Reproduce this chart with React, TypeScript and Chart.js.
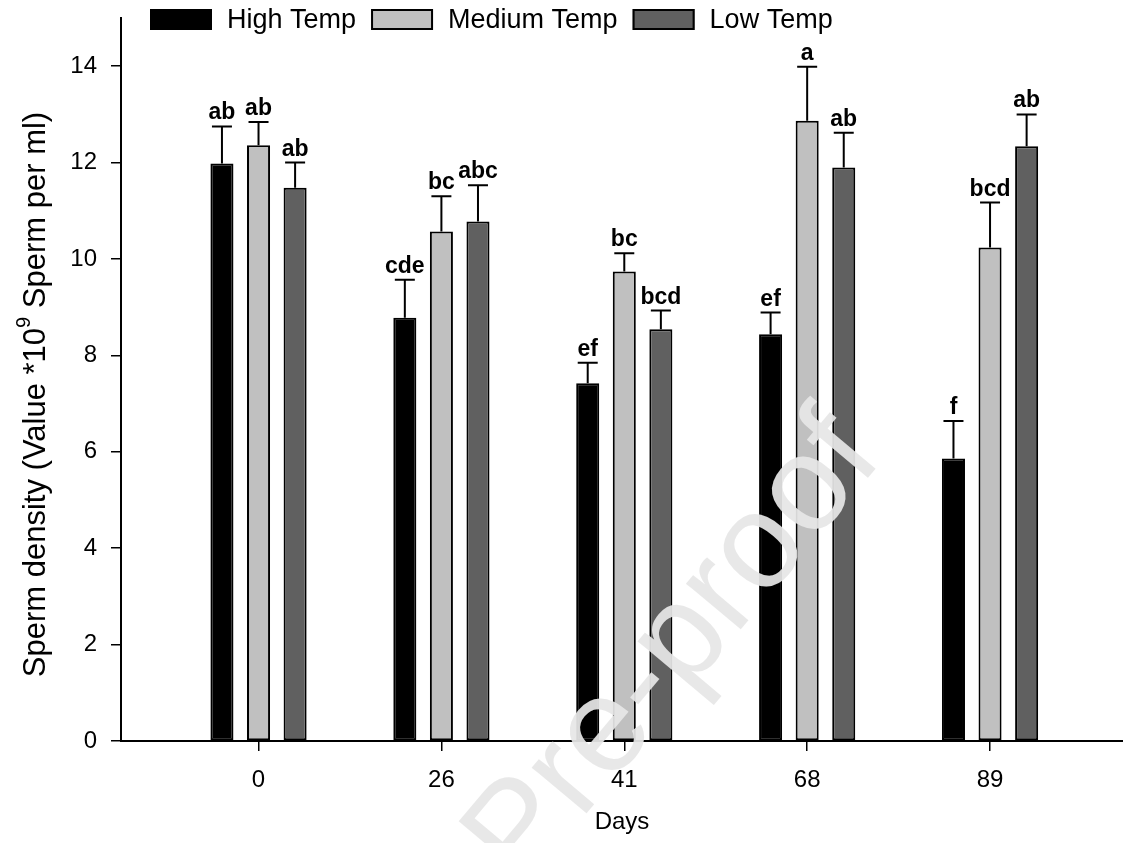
import React, { useEffect, useRef } from 'react';
import { Chart, registerables } from 'chart.js';

Chart.register(...registerables);

const FONT = '"Liberation Sans", Arial, Helvetica, sans-serif';

// ---- data ----
const days = ['0', '26', '41', '68', '89'];
const seriesLabels = ['High Temp', 'Medium Temp', 'Low Temp'];
const seriesColors = ['#000000', '#c0c0c0', '#606060'];

const highTemp = [11.98, 8.78, 7.42, 8.44, 5.86];
const highTempSE = [0.77, 0.79, 0.43, 0.45, 0.78];
const highTempLetters = ['ab', 'cde', 'ef', 'ef', 'f'];

const mediumTemp = [12.36, 10.57, 9.74, 12.87, 10.24];
const mediumTempSE = [0.48, 0.73, 0.38, 1.12, 0.93];
const mediumTempLetters = ['ab', 'bc', 'bc', 'a', 'bcd'];

const lowTemp = [11.48, 10.78, 8.54, 11.9, 12.34];
const lowTempSE = [0.52, 0.75, 0.39, 0.72, 0.66];
const lowTempLetters = ['ab', 'abc', 'bcd', 'ab', 'ab'];

const yTickValues = [0, 2, 4, 6, 8, 10, 12, 14];

const yTitleMain = 'Sperm density (Value *10';
const yTitleSup = '9';
const yTitleEnd = ' Sperm per ml)';
const xTitle = 'Days';
const watermark = 'Pre-proof';

const means = [highTemp, mediumTemp, lowTemp];
const errors = [highTempSE, mediumTempSE, lowTempSE];
const letters = [highTempLetters, mediumTempLetters, lowTempLetters];

const errorLetterPlugin = {
  id: 'errorLetters',
  afterDatasetsDraw(chart: any) {
    const ctx = chart.ctx;
    const yScale = chart.scales.y;
    chart.data.datasets.forEach((ds: any, di: number) => {
      const meta = chart.getDatasetMeta(di);
      meta.data.forEach((bar: any, i: number) => {
        const top = yScale.getPixelForValue(means[di][i] + errors[di][i]);
        ctx.save();
        ctx.strokeStyle = '#000';
        ctx.lineWidth = 2;
        ctx.beginPath();
        ctx.moveTo(bar.x, bar.y);
        ctx.lineTo(bar.x, top);
        ctx.moveTo(bar.x - 10, top);
        ctx.lineTo(bar.x + 10, top);
        ctx.stroke();
        ctx.fillStyle = '#000';
        ctx.font = `bold 23px ${FONT}`;
        ctx.textAlign = 'center';
        ctx.textBaseline = 'alphabetic';
        ctx.fillText(letters[di][i], bar.x, top - 7);
        ctx.restore();
      });
    });
  },
};

const decorPlugin = {
  id: 'decor',
  afterDraw(chart: any) {
    const ctx = chart.ctx;
    const area = chart.chartArea;
    // legend
    ctx.save();
    ctx.font = `27px ${FONT}`;
    ctx.textBaseline = 'middle';
    ctx.textAlign = 'left';
    let x = 150;
    const boxW = 62;
    const boxH = 21;
    const boxTop = 9;
    chart.data.datasets.forEach((ds: any) => {
      ctx.fillStyle = ds.backgroundColor;
      ctx.fillRect(x, boxTop, boxW, boxH);
      ctx.strokeStyle = '#000';
      ctx.lineWidth = 2;
      ctx.strokeRect(x + 1, boxTop + 1, boxW - 2, boxH - 2);
      ctx.fillStyle = '#000';
      const tx = x + boxW + 15;
      ctx.fillText(ds.label, tx, boxTop + boxH / 2 + 1);
      x = tx + ctx.measureText(ds.label).width + 15;
    });
    ctx.restore();

    // y-axis title with superscript
    ctx.save();
    const cy = (area.top + area.bottom) / 2 + 15;
    ctx.translate(36, cy);
    ctx.rotate(-Math.PI / 2);
    ctx.fillStyle = '#000';
    ctx.textBaseline = 'middle';
    ctx.textAlign = 'left';
    const mainFont = `31px ${FONT}`;
    const supFont = `20px ${FONT}`;
    ctx.font = mainFont;
    const w1 = ctx.measureText(yTitleMain).width;
    const w3 = ctx.measureText(yTitleEnd).width;
    ctx.font = supFont;
    const w2 = ctx.measureText(yTitleSup).width;
    const total = w1 + w2 + w3;
    let sx = -total / 2;
    ctx.font = mainFont;
    ctx.fillText(yTitleMain, sx, 0);
    sx += w1;
    ctx.font = supFont;
    ctx.fillText(yTitleSup, sx, -12);
    sx += w2;
    ctx.font = mainFont;
    ctx.fillText(yTitleEnd, sx, 0);
    ctx.restore();

    // watermark
    ctx.save();
    ctx.translate(675, 650);
    ctx.rotate((-50 * Math.PI) / 180);
    ctx.font = `135px ${FONT}`;
    ctx.fillStyle = 'rgba(230,230,230,0.93)';
    ctx.textAlign = 'center';
    ctx.textBaseline = 'middle';
    ctx.fillText(watermark, 0, 0);
    ctx.restore();
  },
};

export default function App() {
  const canvasRef = useRef<HTMLCanvasElement | null>(null);

  useEffect(() => {
    const canvas = canvasRef.current;
    if (!canvas) return;
    const chart = new Chart(canvas, {
      type: 'bar',
      data: {
        datasets: seriesLabels.map((label, si) => ({
          label,
          data: days.map((_, i) => ({ x: i, y: means[si][i] })),
          backgroundColor: seriesColors[si],
          borderColor: '#000000',
          borderWidth: 2,
          borderSkipped: false,
          categoryPercentage: 0.6,
          barPercentage: 0.63,
        })),
      },
      options: {
        responsive: false,
        devicePixelRatio: 1,
        animation: false,
        layout: { padding: { top: 18, right: 0, bottom: 0, left: 0 } },
        plugins: {
          legend: { display: false },
          tooltip: { enabled: false },
          title: { display: false },
        },
        scales: {
          x: {
            type: 'linear',
            offset: false,
            min: -0.752,
            max: 4.727,
            afterBuildTicks: (s: any) => {
              s.ticks = days.map((_, i) => ({ value: i }));
            },
            afterFit: (s: any) => {
              s.height = 102;
              s.paddingLeft = 0;
              s.paddingRight = 0;
            },
            grid: {
              display: true,
              offset: false,
              drawOnChartArea: false,
              drawTicks: true,
              tickLength: 10,
              color: '#000',
              lineWidth: 1.5,
            },
            border: { display: true, color: '#000', width: 2 },
            ticks: {
              callback: (v: any) => days[v] ?? '',
              color: '#000',
              font: { family: FONT, size: 24 },
              padding: 15,
              maxRotation: 0,
              autoSkip: false,
            },
            title: {
              display: true,
              text: xTitle,
              color: '#000',
              font: { family: FONT, size: 24 },
              padding: { top: 0, bottom: 6 },
            },
          },
          y: {
            type: 'linear',
            min: 0,
            max: 15,
            afterBuildTicks: (s: any) => {
              s.ticks = yTickValues.map((v) => ({ value: v }));
            },
            afterFit: (s: any) => {
              s.width = 121;
              s.paddingTop = 0;
              s.paddingBottom = 0;
            },
            grid: {
              display: true,
              drawOnChartArea: false,
              drawTicks: true,
              tickLength: 10,
              color: '#000',
              lineWidth: 1.5,
            },
            border: { display: true, color: '#000', width: 2 },
            ticks: {
              color: '#000',
              font: { family: FONT, size: 24 },
              padding: 14,
            },
          },
        },
      },
      plugins: [errorLetterPlugin, decorPlugin],
    } as any);
    return () => chart.destroy();
  }, []);

  return (
    <div style={{ position: 'absolute', left: 0, top: 0, width: 1123, height: 843, background: '#fff' }}>
      <canvas ref={canvasRef} width={1123} height={843} style={{ display: 'block' }} />
    </div>
  );
}
